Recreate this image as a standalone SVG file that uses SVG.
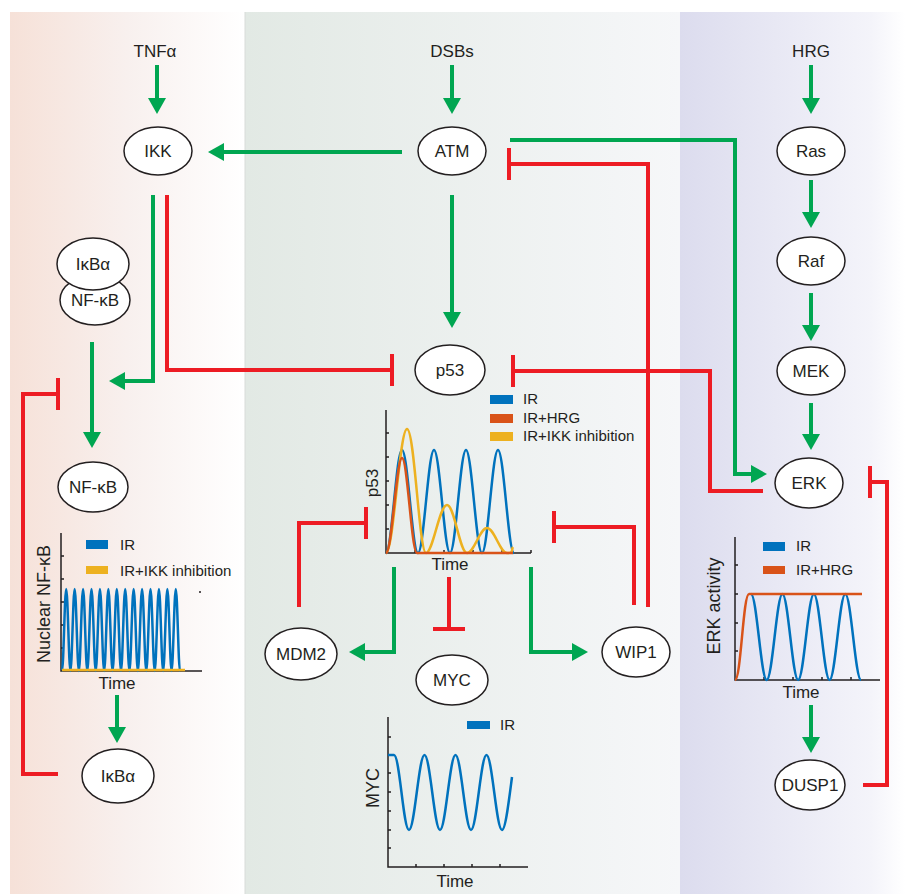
<svg xmlns="http://www.w3.org/2000/svg" width="905" height="894" viewBox="0 0 905 894">
<defs>
<linearGradient id="gL" x1="0" x2="1" y1="0" y2="0"><stop offset="0" stop-color="#f6e1d8"/><stop offset="0.5" stop-color="#f8f0ee"/><stop offset="1" stop-color="#ffffff"/></linearGradient>
<linearGradient id="gM" x1="0" x2="1" y1="0" y2="0"><stop offset="0" stop-color="#e2e9e4"/><stop offset="1" stop-color="#f6f7f9"/></linearGradient>
<linearGradient id="gR" x1="0" x2="1" y1="0" y2="0"><stop offset="0" stop-color="#dcdcee"/><stop offset="0.85" stop-color="#f4f4fa"/><stop offset="1" stop-color="#ffffff"/></linearGradient>
<marker id="ah" markerUnits="userSpaceOnUse" markerWidth="16" markerHeight="18" viewBox="0 0 16 18" refX="0" refY="9" orient="auto" overflow="visible"><path d="M0,0 L16,9 L0,18 Z" fill="#00a651"/></marker>
<marker id="bar" markerUnits="userSpaceOnUse" markerWidth="4" markerHeight="32" viewBox="-2 -16 4 32" refX="0" refY="0" orient="auto" overflow="visible"><path d="M0,-16 L0,16" stroke="#ed1c24" stroke-width="4"/></marker>
</defs>
<style>
text{font-family:"Liberation Sans",Arial,sans-serif;fill:#231f20}
.lbl{font-size:17px;text-anchor:middle}
.node ellipse{fill:#fff;stroke:#231f20;stroke-width:1.5}
.g{fill:none;stroke:#00a651;stroke-width:4;marker-end:url(#ah)}
.r{fill:none;stroke:#ed1c24;stroke-width:4;marker-end:url(#bar)}
.ax{fill:none;stroke:#231f20;stroke-width:1.5}
.leg{font-size:15px}
.axl{font-size:18px;text-anchor:middle}
.tm{font-size:17px;text-anchor:middle}
.b{fill:none;stroke:#0072bd;stroke-width:2.5}
.o{fill:none;stroke:#d95319;stroke-width:2.5}
.y{fill:none;stroke:#edb120;stroke-width:2.5}
</style>
<rect x="0" y="0" width="905" height="894" fill="#fff"/>
<rect x="10" y="12" width="235" height="882" fill="url(#gL)"/>
<rect x="245" y="12" width="435" height="882" fill="url(#gM)"/>
<rect x="680" y="12" width="225" height="882" fill="url(#gR)"/>
<line x1="245" y1="12" x2="245" y2="894" stroke="#d8dcd9" stroke-width="1"/>

<g id="inputs">
<text class="lbl" x="155" y="57">TNFα</text>
<text class="lbl" x="452" y="57">DSBs</text>
<text class="lbl" x="811" y="57">HRG</text>
</g>

<g id="connectors">
<path class="g" d="M157,65 V98"/>
<path class="g" d="M452,65 V98"/>
<path class="g" d="M811,65 V98"/>
<path class="g" d="M811,180 V212"/>
<path class="g" d="M811,293 V325"/>
<path class="g" d="M811,403 V434"/>
<path class="g" d="M402,152 H224"/>
<path class="g" d="M510,140 H735 V474 H751"/>
<path class="g" d="M452,195 V312"/>
<path class="g" d="M153,195 V381 H125"/>
<path class="g" d="M92,342 V432"/>
<path class="g" d="M117,695 V727"/>
<path class="g" d="M811,705 V737"/>
<path class="g" d="M394,567 V652 H365"/>
<path class="g" d="M531,567 V652 H572"/>
<path class="r" d="M167,195 V370 H392"/>
<path class="r" d="M763,491 H710 V371 H513"/>
<path class="r" d="M648,607 V164 H509"/>
<path class="r" d="M634,605 V527 H554"/>
<path class="r" d="M299,607 V523 H366"/>
<path class="r" d="M449,577 V629"/>
<path class="r" d="M58,774 H23 V394 H58"/>
<path class="r" d="M863,785 H887 V482 H870"/>
</g>

<g id="IKK" class="node"><ellipse cx="158" cy="151" rx="34" ry="24"/><text class="lbl" x="158" y="157">IKK</text></g>
<g id="ATM" class="node"><ellipse cx="452" cy="151" rx="34" ry="24"/><text class="lbl" x="452" y="157">ATM</text></g>
<g id="Ras" class="node"><ellipse cx="811" cy="151" rx="34" ry="24"/><text class="lbl" x="811" y="157">Ras</text></g>
<g id="Raf" class="node"><ellipse cx="811" cy="261" rx="34" ry="24"/><text class="lbl" x="811" y="267">Raf</text></g>
<g id="MEK" class="node"><ellipse cx="811" cy="371" rx="34" ry="24"/><text class="lbl" x="811" y="377">MEK</text></g>
<g id="ERK" class="node"><ellipse cx="809" cy="483" rx="34" ry="25"/><text class="lbl" x="809" y="489">ERK</text></g>
<g id="DUSP1" class="node"><ellipse cx="810" cy="785" rx="35" ry="25"/><text class="lbl" x="810" y="791">DUSP1</text></g>
<g id="p53" class="node"><ellipse cx="450" cy="370" rx="35" ry="25"/><text class="lbl" x="450" y="376">p53</text></g>
<g id="MDM2" class="node"><ellipse cx="301" cy="654" rx="36" ry="26"/><text class="lbl" x="301" y="660">MDM2</text></g>
<g id="MYC" class="node"><ellipse cx="452" cy="680" rx="36" ry="25"/><text class="lbl" x="452" y="686">MYC</text></g>
<g id="WIP1" class="node"><ellipse cx="636" cy="652" rx="34" ry="25"/><text class="lbl" x="636" y="658">WIP1</text></g>
<g id="NFkB_complex" class="node"><ellipse cx="95" cy="300" rx="35" ry="25"/><text class="lbl" x="95" y="306">NF-κB</text></g>
<g id="IkBa_complex" class="node"><ellipse cx="93" cy="264" rx="36" ry="26"/><text class="lbl" x="93" y="270">IκBα</text></g>
<g id="NFkB" class="node"><ellipse cx="93" cy="487" rx="35" ry="25"/><text class="lbl" x="93" y="493">NF-κB</text></g>
<g id="IkBa" class="node"><ellipse cx="118" cy="776" rx="36" ry="27"/><text class="lbl" x="118" y="782">IκBα</text></g>

<g id="chart_p53">
<path class="ax" d="M386,410 V553 H531 M386,529 h3 M386,505 h3 M386,481 h3 M386,457 h3 M386,433 h3 M415,553 v-3 M444,553 v-3 M473,553 v-3 M502,553 v-3 M531,553 v-3"/>
<path class="b" d="M386,553 C391.8,553 396.2,450 402,450 S412.2,553 418,553 S428.2,450 434,450 S444.2,553 450,553 S460.2,450 466,450 S476.2,553 482,553 S492.2,450 498,450 S508.2,553 514,553"/>
<path class="y" d="M386,553 C393.6,553 399.4,429 407,429 S419.1,553 426,553 S439.4,505 447,505 S459.7,553 467,553 S479.7,528 487,528 S500,553 507,553 S511,550 513,547"/>
<path class="o" d="M386,553 C391.8,553 396.5,458 402,458 S411.5,553 417,553 L513,553"/>
<rect x="490" y="395" width="23" height="9" fill="#0072bd"/>
<rect x="490" y="414" width="23" height="9" fill="#d95319"/>
<rect x="490" y="432" width="23" height="9" fill="#edb120"/>
<text class="leg" x="523" y="404">IR</text>
<text class="leg" x="523" y="423">IR+HRG</text>
<text class="leg" x="523" y="441">IR+IKK inhibition</text>
<text class="axl" transform="translate(378,483) rotate(-90)" style="font-size:17px">p53</text>
<text class="tm" x="450" y="570">Time</text>
</g>

<g id="chart_nfkb">
<path class="ax" d="M61,533 V671 H202 M61,648 h3 M61,625 h3 M61,602 h3 M61,579 h3 M61,556 h3 M200,591 v2"/>
<path class="b" d="M62,671 C63.53,671 64.68,589 66.21,589 S68.9,671 70.43,671 S73.11,589 74.64,589 S77.33,671 78.86,671 S81.54,589 83.07,589 S85.76,671 87.29,671 S89.97,589 91.5,589 S94.18,671 95.71,671 S98.4,589 99.93,589 S102.61,671 104.14,671 S106.83,589 108.36,589 S111.04,671 112.57,671 S115.26,589 116.79,589 S119.47,671 121,671 S123.68,589 125.21,589 S127.9,671 129.43,671 S132.11,589 133.64,589 S136.33,671 137.86,671 S140.54,589 142.07,589 S144.76,671 146.29,671 S148.97,589 150.5,589 S153.18,671 154.71,671 S157.4,589 158.93,589 S161.61,671 163.14,671 S165.83,589 167.36,589 S170.04,671 171.57,671 S174.26,589 175.79,589 S178.47,671 180,671"/>
<path class="y" d="M62,670 H185"/>
<rect x="86" y="540" width="22" height="9" fill="#0072bd"/>
<rect x="86" y="566" width="22" height="8" fill="#edb120"/>
<text class="leg" x="120" y="550">IR</text>
<text class="leg" x="120" y="576">IR+IKK inhibition</text>
<text class="axl" transform="translate(50,604) rotate(-90)">Nuclear NF-κB</text>
<text class="tm" x="117" y="689">Time</text>
</g>

<g id="chart_erk">
<path class="ax" d="M735,537 V680 H880 M735,651 h3 M735,623 h3 M735,594 h3 M735,565 h3 M764,680 v-3 M793,680 v-3 M822,680 v-3 M851,680 v-3"/>
<path class="b" d="M751,594 C756.72,594 760.99,680 766.71,680 S776.71,594 782.43,594 S792.42,680 798.14,680 S808.14,594 813.86,594 S823.85,680 829.57,680 S839.57,594 845.29,594 S855.28,680 861,680"/>
<path class="o" d="M735,680 C741,680 743,594 749,594 L862,594"/>
<rect x="763" y="542" width="22" height="9" fill="#0072bd"/>
<rect x="763" y="566" width="22" height="8" fill="#d95319"/>
<text class="leg" x="796" y="551">IR</text>
<text class="leg" x="796" y="575">IR+HRG</text>
<text class="axl" transform="translate(720,606) rotate(-90)">ERK activity</text>
<text class="tm" x="801" y="698">Time</text>
</g>

<g id="chart_myc">
<path class="ax" d="M388,717 V867 H528 M388,848 h3 M388,830 h3 M388,811 h3 M388,792 h3 M388,773 h3 M388,755 h3 M388,737 h3 M416,867 v-3 M444,867 v-3 M472,867 v-3 M500,867 v-3"/>
<path class="b" d="M388,755 L394,755 C399.64,755 403.36,830 409,830 S418.86,755 424.5,755 S434.36,830 440,830 S449.86,755 455.5,755 S465.36,830 471,830 S480.86,755 486.5,755 S496.36,830 502,830 C505.5,830 509,800 512,777"/>
<rect x="467" y="721" width="23" height="8" fill="#0072bd"/>
<text class="leg" x="500" y="730">IR</text>
<text class="axl" transform="translate(379,788) rotate(-90)">MYC</text>
<text class="tm" x="455" y="887">Time</text>
</g>
</svg>
